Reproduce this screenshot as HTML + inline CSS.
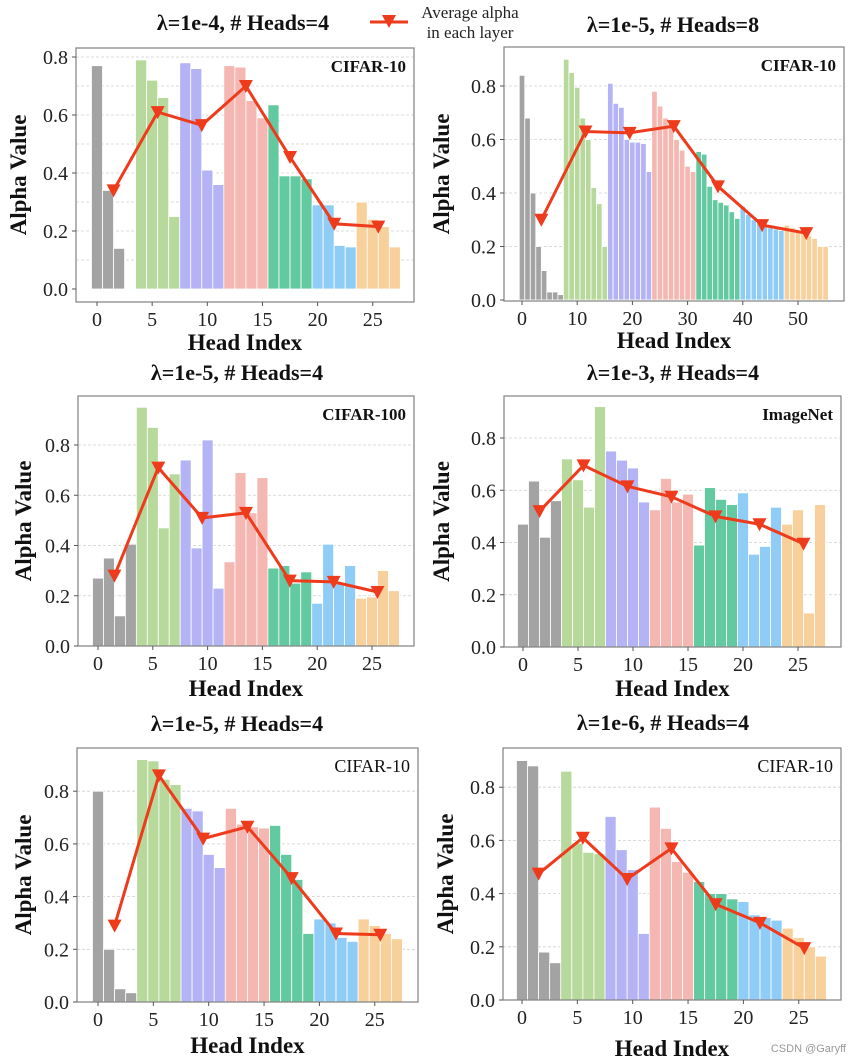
<!DOCTYPE html>
<html><head><meta charset="utf-8">
<style>
html,body{margin:0;padding:0;background:#fff;}
svg{display:block;font-family:"Liberation Serif",serif;}
</style></head>
<body>
<svg id="fig" width="856" height="1063" viewBox="0 0 856 1063" xmlns="http://www.w3.org/2000/svg">
  <g>
    <line x1="370" y1="22" x2="408" y2="22" stroke="#ee3b1c" stroke-width="3"/>
    <path d="M382,15 L396,15 L389,28 Z" fill="#ee3b1c"/>
    <text x="470" y="18" font-size="17" text-anchor="middle" fill="#222">Average alpha</text>
    <text x="470" y="38" font-size="17" text-anchor="middle" fill="#222">in each layer</text>
  </g>
  <text x="846" y="1052" font-family="Liberation Sans, sans-serif" font-size="11" fill="#999" text-anchor="end">CSDN @Garyff</text>
</svg>
<script>
// ---- data ----
const layerColors = ["#a3a3a3","#b8d99c","#b3b3f5","#f4b7b1","#63c9a0","#90cdf6","#f8d09c"];
const p1Values = [0.77,0.34,0.14,0,0.79,0.72,0.66,0.25,0.78,0.76,0.41,0.36,0.77,0.765,0.65,0.59,0.635,0.39,0.39,0.38,0.29,0.29,0.15,0.145,0.30,0.24,0.215,0.145];
const p1Avg = [0.34,0.61,0.565,0.70,0.455,0.225,0.215];
const p2Values = [0.84,0.68,0.40,0.20,0.11,0.03,0.03,0.02, 0.90,0.85,0.795,0.68,0.60,0.42,0.36,0.20, 0.81,0.735,0.72,0.60,0.59,0.59,0.585,0.48, 0.78,0.725,0.68,0.67,0.60,0.56,0.50,0.48, 0.555,0.545,0.425,0.375,0.365,0.355,0.33,0.305, 0.35,0.32,0.30,0.29,0.28,0.27,0.265,0.26, 0.28,0.27,0.26,0.25,0.24,0.23,0.20,0.20];
const p2Avg = [0.30,0.63,0.625,0.65,0.425,0.28,0.25];
const p3Values = [0.27,0.35,0.12,0.405,0.95,0.87,0.47,0.685,0.74,0.39,0.82,0.23,0.335,0.69,0.53,0.67,0.31,0.32,0.25,0.295,0.17,0.405,0.25,0.32,0.19,0.195,0.30,0.22];
const p3Avg = [0.28,0.71,0.51,0.53,0.26,0.255,0.215];
const p4Values = [0.47,0.635,0.42,0.56,0.72,0.64,0.535,0.92,0.75,0.715,0.685,0.555,0.525,0.645,0.555,0.585,0.39,0.61,0.565,0.545,0.59,0.355,0.385,0.535,0.47,0.525,0.13,0.545];
const p4Avg = [0.52,0.695,0.615,0.575,0.50,0.47,0.395];
const p5Values = [0.80,0.20,0.05,0.035,0.92,0.915,0.845,0.825,0.735,0.725,0.56,0.51,0.735,0.675,0.665,0.66,0.67,0.56,0.465,0.26,0.315,0.30,0.245,0.23,0.315,0.29,0.26,0.24];
const p5Avg = [0.29,0.86,0.62,0.665,0.47,0.26,0.255];
const p6Values = [0.90,0.88,0.18,0.14,0.86,0.59,0.555,0.55,0.69,0.565,0.49,0.25,0.725,0.645,0.52,0.48,0.445,0.40,0.40,0.38,0.37,0.32,0.31,0.30,0.27,0.235,0.20,0.165];
const p6Avg = [0.475,0.61,0.455,0.57,0.36,0.29,0.195];
const titles = ["λ=1e-4, # Heads=4","λ=1e-5, # Heads=8","λ=1e-5, # Heads=4","λ=1e-3, # Heads=4","λ=1e-5, # Heads=4","λ=1e-6, # Heads=4"];
const datasets = ["CIFAR-10","CIFAR-10","CIFAR-100","ImageNet","CIFAR-10","CIFAR-10"];
const xTicks4 = [0,5,10,15,20,25];
const xTicks8 = [0,10,20,30,40,50];
const yTickLabels = ["0.0","0.2","0.4","0.6","0.8"];

// ---- layout (not data) ----
const panels = [
 {v:p1Values,a:p1Avg,x0:76,x1:414,y0:48,y1:302,zx:97,ux:11.03,zy:289,uy:290,h:4,ticks:xTicks4,tx:243,ty:30,ax:26,hy:350,minor:true,bold:true},
 {v:p2Values,a:p2Avg,x0:504,x1:844,y0:47,y1:301,zx:522,ux:5.52,zy:300,uy:267.5,h:8,ticks:xTicks8,tx:673,ty:32,ax:449,hy:348,bold:true},
 {v:p3Values,a:p3Avg,x0:78,x1:414,y0:396,y1:646,zx:98,ux:10.96,zy:646,uy:251.25,h:4,ticks:xTicks4,tx:237,ty:380,ax:31,hy:696,bold:true},
 {v:p4Values,a:p4Avg,x0:504,x1:841,y0:396,y1:647,zx:523,ux:11.0,zy:647,uy:261.25,h:4,ticks:xTicks4,tx:673,ty:380,ax:449,hy:696,bold:true},
 {v:p5Values,a:p5Avg,x0:77,x1:418,y0:748,y1:1002,zx:98,ux:11.07,zy:1002,uy:263.5,h:4,ticks:xTicks4,tx:237,ty:731,ax:31,hy:1053,bold:false},
 {v:p6Values,a:p6Avg,x0:503,x1:841,y0:748,y1:1000,zx:522,ux:11.07,zy:1000,uy:266,h:4,ticks:xTicks4,tx:663,ty:730,ax:453,hy:1056,bold:false}
];
const NS="http://www.w3.org/2000/svg";
const svg=document.getElementById('fig');
function mk(tag,attrs,parent){const e=document.createElementNS(NS,tag);for(const k in attrs)e.setAttribute(k,attrs[k]);parent.appendChild(e);return e;}

panels.forEach((p,pi)=>{
  const g=mk('g',{},svg);
  
  
  const X=i=>p.zx+i*p.ux, Y=v=>p.zy-v*p.uy;
  const step = p.minor?0.1:0.2;
  for(let k=1;k*step<=0.95;k++){const yv=Y(k*step); if(yv<p.y0+1)break;
    const gl=mk('line',{x1:p.x0,x2:p.x1,y1:yv,y2:yv,stroke:'#cfcfcf','stroke-width':0.8,'stroke-dasharray':'3,2'},g);
    
    
  }
  p.v.forEach((val,i)=>{
    if(val<=0)return;
    const r=mk('rect',{x:X(i)-p.ux/2,y:Y(val),width:p.ux,height:Y(0)-Y(val),fill:layerColors[Math.floor(i/p.h)],stroke:'#fff','stroke-width':0.8},g);
    
    
  });
  const fr=mk('rect',{x:p.x0,y:p.y0,width:p.x1-p.x0,height:p.y1-p.y0,fill:'none',stroke:'#8a8a8a','stroke-width':1.3},g);
  
  
  const pts=p.a.map((v,j)=>[X(j*p.h+(p.h-1)/2),Y(v)]);
  const pl=mk('polyline',{points:pts.map(q=>q.join(',')).join(' '),fill:'none',stroke:'#ee3b1c','stroke-width':3},g);
  
  
  pts.forEach((q,j)=>{
    const m=mk('path',{d:`M${q[0]-7},${q[1]-6} L${q[0]+7},${q[1]-6} L${q[0]},${q[1]+7} Z`,fill:'#ee3b1c'},g);
    
    
  });
  yTickLabels.forEach((lab,k)=>{
    const yv=Y(k*0.2);
    mk('line',{x1:p.x0-4,x2:p.x0,y1:yv,y2:yv,stroke:'#555','stroke-width':1},g);
    const t=mk('text',{x:p.x0-8,y:yv+7,'font-size':20,'text-anchor':'end',fill:'#222'},g);
    
    
    t.textContent=lab;
  });
  p.ticks.forEach(tv=>{
    const xv=X(tv);
    mk('line',{x1:xv,x2:xv,y1:p.y1,y2:p.y1+4,stroke:'#555','stroke-width':1},g);
    const t=mk('text',{x:xv,y:p.y1+24,'font-size':20,'text-anchor':'middle',fill:'#222'},g);
    
    
    t.textContent=tv;
  });
  const tt=mk('text',{x:p.tx,y:p.ty,'font-size':22,'font-weight':'bold','text-anchor':'middle',fill:'#111'},g);
  
  
  tt.textContent=titles[pi];
  const dl=mk('text',{x:p.x1-8,y:p.y0+24,'font-size':p.bold?17:18,'font-weight':p.bold?'bold':'normal','text-anchor':'end',fill:'#111'},g);
  
  
  dl.textContent=datasets[pi];
  const cy=(p.y0+p.y1)/2;
  const ya=mk('text',{x:p.ax,y:cy,'font-size':23,'font-weight':'bold','text-anchor':'middle',transform:`rotate(-90 ${p.ax} ${cy})`,fill:'#111'},g);
  
  
  ya.textContent='Alpha Value';
  const xa=mk('text',{x:(p.x0+p.x1)/2,y:p.hy,'font-size':23,'font-weight':'bold','text-anchor':'middle',fill:'#111'},g);
  
  
  xa.textContent='Head Index';
});
</script>
</body></html>
